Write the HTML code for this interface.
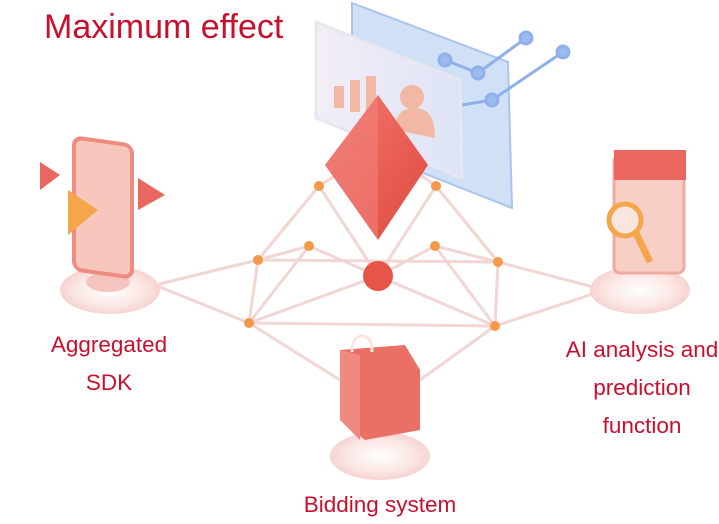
<!DOCTYPE html>
<html><head><style>
body{margin:0;background:#fff;width:719px;height:519px;overflow:hidden;position:relative;font-family:"Liberation Sans",sans-serif}
.t{position:absolute;color:#c8102e;text-align:center;font-size:22.5px;line-height:38px}
</style></head><body>
<svg width="719" height="519" style="position:absolute;left:0;top:0">
<defs>
<linearGradient id="d" x1="0" y1="0" x2="1" y2="1"><stop offset="0" stop-color="#f27a70"/><stop offset="1" stop-color="#e0483e"/></linearGradient>
<linearGradient id="p" x1="0" y1="0" x2="1" y2="0"><stop offset="0" stop-color="#f3eef6"/><stop offset="1" stop-color="#dde4f7"/></linearGradient>
<radialGradient id="b"><stop offset="0" stop-color="#fff"/><stop offset="0.7" stop-color="#fbe6e4"/><stop offset="1" stop-color="#f6d3d0"/></radialGradient>
</defs>
<polygon points="352,3 508,62 512,208 352,145" fill="#cfe0f7" stroke="#a9c5ee" stroke-width="2"/>
<g stroke="#8fb1ea" stroke-width="3" fill="#9dbbef">
<line x1="445" y1="60" x2="478" y2="73"/><line x1="478" y1="73" x2="526" y2="38"/><line x1="492" y1="100" x2="563" y2="52"/><line x1="462" y1="105" x2="492" y2="100"/>
<circle cx="445" cy="60" r="6"/><circle cx="478" cy="73" r="6"/><circle cx="526" cy="38" r="6"/><circle cx="492" cy="100" r="6"/><circle cx="563" cy="52" r="6"/>
</g>
<polygon points="316,22 460,80 462,178 316,118" fill="url(#p)" stroke="#e8e6ee" stroke-width="3"/>
<rect x="334" y="86" width="10" height="22" fill="#f1b9a3"/><rect x="350" y="80" width="10" height="32" fill="#f1b9a3"/><rect x="366" y="76" width="10" height="38" fill="#f1b9a3"/>
<circle cx="412" cy="97" r="12" fill="#f1b9a3"/><path d="M395,130 q0,-22 20,-22 q20,0 20,30 z" fill="#f1b9a3"/>
<g stroke="#f2d6d3" stroke-width="3" fill="none">
<path d="M155,285 L258,260 L319,186 L378,276 L436,186 L498,262 L605,290"/>
<path d="M155,285 L249,323 L378,276 L495,326 L605,290"/>
<path d="M258,260 L498,262 M249,323 L495,326 M249,323 L309,246 L378,276 L435,246 L495,326"/>
<path d="M258,260 L249,323 M498,262 L495,326 M319,186 L258,260 M436,186 L498,262 M309,246 L258,260 M435,246 L498,262"/>
<path d="M249,323 L340,380 M495,326 L420,380 M319,186 L360,160 M436,186 L400,160"/>
</g>
<g fill="#f39a4a"><circle cx="319" cy="186" r="5"/><circle cx="436" cy="186" r="5"/><circle cx="309" cy="246" r="5"/><circle cx="435" cy="246" r="5"/><circle cx="258" cy="260" r="5"/><circle cx="498" cy="262" r="5"/><circle cx="249" cy="323" r="5"/><circle cx="495" cy="326" r="5"/></g>
<circle cx="378" cy="276" r="15" fill="#e5554a"/>
<polygon points="378,95 428,165 378,240 325,165" fill="url(#d)"/>
<polygon points="378,95 378,240 325,165" fill="#f0817a" opacity="0.6"/>
<ellipse cx="110" cy="290" rx="50" ry="24" fill="url(#b)"/>
<ellipse cx="108" cy="282" rx="22" ry="10" fill="#f6c4bf"/>
<rect x="74" y="142" width="58" height="132" rx="8" fill="#f7c6bd" stroke="#ef8c7f" stroke-width="4" transform="skewY(8) translate(0,-15)"/>
<polygon points="40,162 60,175 40,190" fill="#e9675e"/><polygon points="138,178 165,195 138,210" fill="#e9675e"/>
<polygon points="68,190 98,210 68,235" fill="#f5a64a"/>
<ellipse cx="640" cy="290" rx="50" ry="24" fill="url(#b)"/>
<rect x="614" y="155" width="70" height="118" rx="6" fill="#f7cfc7" stroke="#f1aa9e" stroke-width="3"/>
<rect x="614" y="150" width="72" height="30" fill="#e9675e"/>
<circle cx="625" cy="220" r="16" fill="#fbe5df" stroke="#f5a64a" stroke-width="5"/>
<line x1="636" y1="233" x2="650" y2="262" stroke="#f5a64a" stroke-width="7"/>
<ellipse cx="380" cy="456" rx="50" ry="24" fill="url(#b)"/>
<polygon points="340,350 405,345 420,370 420,430 365,440 340,420" fill="#ea6f65"/>
<polygon points="340,350 360,355 360,440 340,420" fill="#f08a80"/>
<path d="M352,352 q0,-16 10,-16 q10,0 10,16" fill="none" stroke="#fbe5df" stroke-width="3"/>
</svg>
<div style="position:absolute;left:44px;top:8px;color:#c8102e;font-size:34px">Maximum effect</div>
<div class="t" style="left:28px;top:326px;width:162px">Aggregated<br>SDK</div>
<div class="t" style="left:555px;top:331px;width:174px">AI analysis and<br>prediction<br>function</div>
<div class="t" style="left:270px;top:486px;width:220px">Bidding system</div>
</body></html>
